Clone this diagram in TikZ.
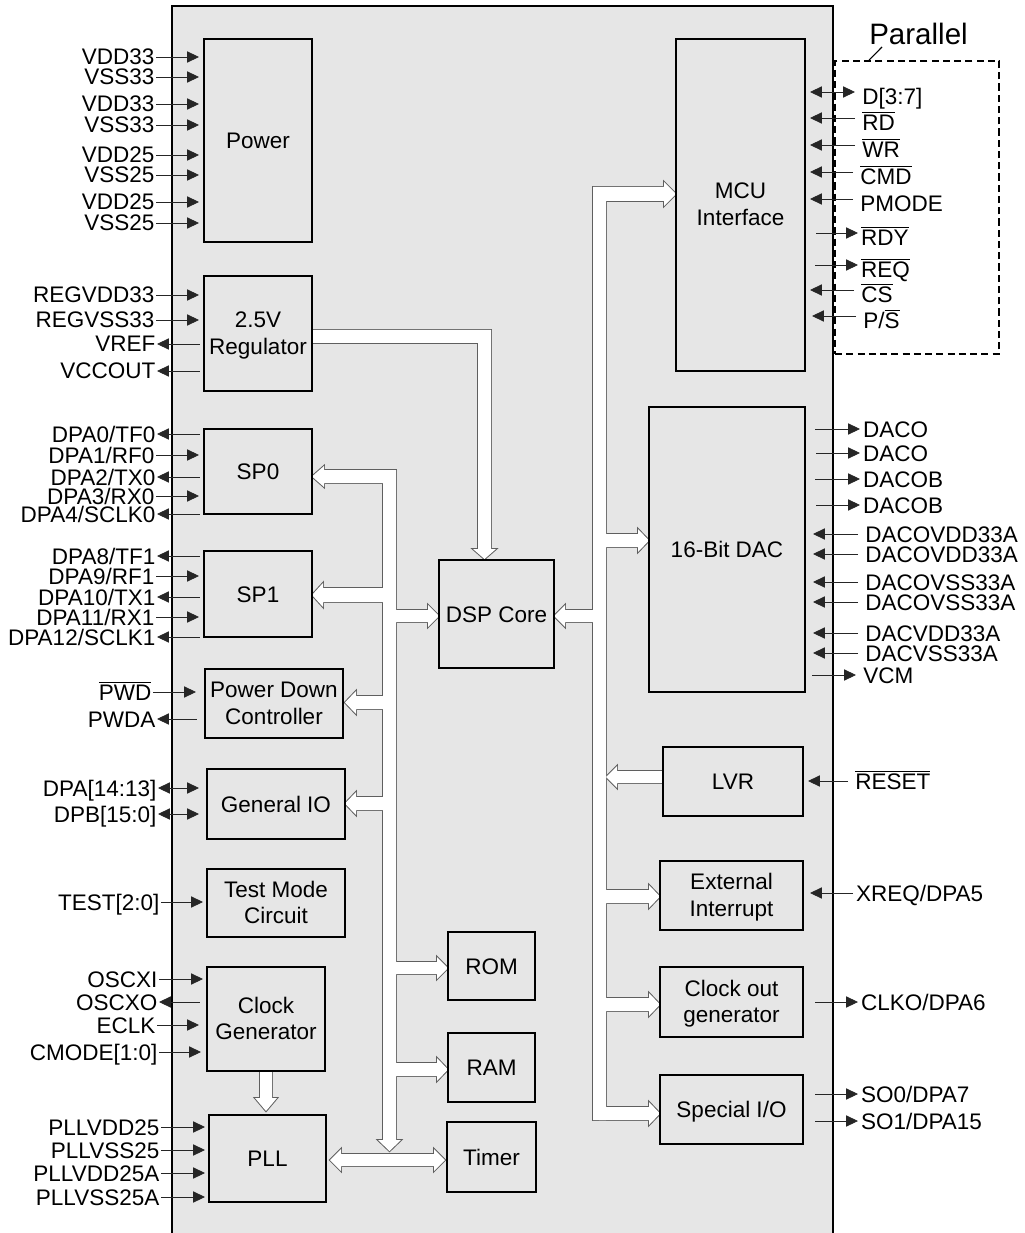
\documentclass[tikz,border=0pt]{standalone}
\usepackage{fontspec}
\setmainfont{Liberation Sans}
\usetikzlibrary{arrows.meta,fit,calc}
\definecolor{chipbg}{RGB}{230,230,230}
\definecolor{busline}{RGB}{95,95,95}
\newcommand\ovl[1]{$\overline{\mbox{#1}}$}
\tikzset{
 every node/.style={font=\fontsize{16}{19}\selectfont},
 chip/.style={draw=black, line width=1.2pt, fill=chipbg, inner sep=0pt},
 blk/.style={draw=black, line width=1.1pt, fill=chipbg, inner sep=0pt},
 btxt/.style={anchor=base, inner sep=0pt},
 pinline/.style={draw=black!85, line width=0.6pt},
 pin-in/.style={pinline, -{Triangle[length=8.5pt,width=8pt]}},
 pin-out/.style={pinline, {Triangle[length=8.5pt,width=8pt]}-},
 pin-bi/.style={pinline, {Triangle[length=8.5pt,width=8pt]}-{Triangle[length=8.5pt,width=8pt]}},
 llbl/.style={anchor=base east, inner xsep=1pt, inner ysep=0pt},
 rlbl-in/.style={anchor=base west, inner xsep=5pt, inner ysep=0pt},
 rlbl-out/.style={anchor=base west, inner xsep=2pt, inner ysep=0pt},
 dashbox/.style={draw=black, line width=1.3pt, dash pattern=on 5pt off 3pt, inner sep=0pt},
}
% block with one line of text: name, x1, y1, x2, y2, text
\newcommand\blkA[6]{%
  \node[blk, fit={(#2,#3) (#4,#5)}] (#1) {};
  \node[btxt] (#1-l) at ($(#1.center)+(0,8)$) {#6};}
% block with two lines of text
\newcommand\blkB[7]{%
  \node[blk, fit={(#2,#3) (#4,#5)}] (#1) {};
  \node[btxt] (#1-l) at ($(#1.center)+(0,-6)$) {\begin{tabular}[t]{@{}c@{}}#6\\#7\end{tabular}};}
% left pin: name, text, x of line start, x of tip, y, arrow style
\newcommand\lpin[6]{%
  \node[llbl] (#1) at (#3,#5+8) {#2};
  \coordinate (#1-t) at (#4,#5);
  \draw[#6] (#1-t -| #1.east) -- (#1-t);}
% right pin: name, text, x of line start, x of tip, y, arrow style, label style
\newcommand\rpin[7]{%
  \node[#7] (#1) at (#3,#5+8) {#2};
  \coordinate (#1-t) at (#4,#5);
  \draw[#6] (#1-t -| #1.west) -- (#1-t);}
% hollow arrows: style, x start, x tip, y top, y bottom
\newcommand\hR[5]{\path[#1] (#2,#4) -- ({#3-11},#4) -- ({#3-11},{#4-5}) -- (#3,{(#4+#5)/2}) -- ({#3-11},{#5+5}) -- ({#3-11},#5) -- (#2,#5) -- cycle;}
\newcommand\hL[5]{\path[#1] (#2,#4) -- ({#3+11},#4) -- ({#3+11},{#4-5}) -- (#3,{(#4+#5)/2}) -- ({#3+11},{#5+5}) -- ({#3+11},#5) -- (#2,#5) -- cycle;}
\newcommand\busshapes[1]{%
 % regulator -> DSP core
 \path[#1] (305,330) -- (491,330) -- (491,549) -- (496,549) -- (484.5,559) -- (473,549) -- (478,549) -- (478,343) -- (305,343) -- cycle;
 % left bus with SP0 branch
 \path[#1] (312,476.5) -- (324,466) -- (324,470) -- (396,470) -- (396,1140) -- (401,1140) -- (389.5,1151) -- (378,1140) -- (383,1140) -- (383,483) -- (324,483) -- (324,487) -- cycle;
 \hL{#1}{389}{312}{588}{602}
 \hR{#1}{389}{439}{610}{622}
 \hL{#1}{389}{345}{696}{709}
 \hL{#1}{389}{345}{797}{810}
 \hR{#1}{389}{448}{962}{974}
 \hR{#1}{389}{448}{1063}{1076}
 % clock generator -> PLL
 \path[#1] (260,1065) -- (260,1098) -- (255,1098) -- (266,1111) -- (277,1098) -- (272,1098) -- (272,1065) -- cycle;
 % PLL <-> Timer
 \path[#1] (341,1154) -- (434,1154) -- (434,1149) -- (445,1160) -- (434,1171) -- (434,1166) -- (341,1166) -- (341,1171) -- (330,1160) -- (341,1149) -- cycle;
 % right bus with MCU branch
 \path[#1] (593,187) -- (664,187) -- (664,182) -- (676,194) -- (664,206) -- (664,201) -- (606,201) -- (606,1120) -- (593,1120) -- cycle;
 \hL{#1}{599}{554}{610}{622}
 \hR{#1}{599}{649}{534}{547}
 \hL{#1}{670}{606}{771}{783}
 \hR{#1}{599}{660}{890}{903}
 \hR{#1}{599}{660}{998}{1011}
 \hR{#1}{599}{660}{1107}{1120}
}
\begin{document}
\begin{tikzpicture}[x=0.025cm, y=-0.025cm]
\useasboundingbox (0,0) rectangle (1024,1233);
\clip (0,0) rectangle (1024,1233);
\node[chip, fit={(172,6) (833,1260)}] (chip) {};
% buses
\busshapes{draw=busline, line width=1.4pt, line join=miter}
\busshapes{fill=white}
% blocks
\blkA{pwr}{204}{39}{312}{242}{Power}
\blkB{reg}{204}{276}{312}{391}{2.5V}{Regulator}
\blkA{sp0}{204}{429}{312}{514}{SP0}
\blkA{sp1}{204}{551}{312}{637}{SP1}
\blkB{pdc}{205}{669}{343}{738}{Power Down}{Controller}
\blkA{gio}{207}{769}{345}{839}{General IO}
\blkB{tmc}{207}{869}{345}{937}{Test Mode}{Circuit}
\blkB{clk}{207}{967}{325}{1071}{Clock}{Generator}
\blkA{pll}{209}{1115}{326}{1202}{PLL}
\blkA{dsp}{439}{560}{554}{668}{DSP Core}
\blkA{rom}{448}{932}{535}{1000}{ROM}
\blkA{ram}{448}{1033}{535}{1102}{RAM}
\blkA{tmr}{447}{1122}{536}{1192}{Timer}
\blkB{mcu}{676}{39}{805}{371}{MCU}{Interface}
\blkA{dac}{649}{407}{805}{692}{16-Bit DAC}
\blkA{lvr}{663}{747}{803}{816}{LVR}
\blkB{ext}{660}{861}{803}{930}{External}{Interrupt}
\blkB{cog}{660}{967}{803}{1037}{Clock out}{generator}
\blkA{sio}{660}{1075}{803}{1144}{Special I/O}
% parallel group
\node[dashbox, fit={(835,61) (999,354)}] (par) {};
\node[font=\fontsize{21}{24}\selectfont, anchor=base west, inner sep=0pt] (parlbl) at (869,45) {Parallel};
\draw[line width=0.8pt] ($(par.north west)+(35,0)$) -- ($(parlbl.base west)+(13,2)$);
% left pins
\lpin{p1}{VDD33}{156}{199}{57}{pin-in}
\lpin{p2}{VSS33}{156}{199}{77}{pin-in}
\lpin{p3}{VDD33}{156}{199}{104}{pin-in}
\lpin{p4}{VSS33}{156}{199}{125}{pin-in}
\lpin{p5}{VDD25}{156}{199}{155}{pin-in}
\lpin{p6}{VSS25}{156}{199}{175}{pin-in}
\lpin{p7}{VDD25}{156}{199}{202}{pin-in}
\lpin{p8}{VSS25}{156}{199}{223}{pin-in}
\lpin{r1}{REGVDD33}{156}{199}{295}{pin-in}
\lpin{r2}{REGVSS33}{156}{199}{320}{pin-in}
\lpin{r3}{VREF}{157}{200}{344}{pin-out}
\lpin{r4}{VCCOUT}{157}{200}{371}{pin-out}
\lpin{s1}{DPA0/TF0}{157}{200}{434}{pin-out}
\lpin{s2}{DPA1/RF0}{156}{199}{455}{pin-in}
\lpin{s3}{DPA2/TX0}{157}{200}{477}{pin-out}
\lpin{s4}{DPA3/RX0}{156}{199}{496}{pin-in}
\lpin{s5}{DPA4/SCLK0}{157}{200}{514}{pin-out}
\lpin{t1}{DPA8/TF1}{157}{200}{556}{pin-out}
\lpin{t2}{DPA9/RF1}{156}{199}{576}{pin-in}
\lpin{t3}{DPA10/TX1}{157}{200}{597}{pin-out}
\lpin{t4}{DPA11/RX1}{156}{199}{617}{pin-in}
\lpin{t5}{DPA12/SCLK1}{157}{200}{637}{pin-out}
\lpin{d1}{\ovl{PWD}}{153}{196}{692}{pin-in}
\lpin{d2}{PWDA}{157}{197}{719}{pin-out}
\lpin{g1}{DPA[14:13]}{158}{199}{788}{pin-bi}
\lpin{g2}{DPB[15:0]}{158}{199}{814}{pin-bi}
\lpin{tm}{TEST[2:0]}{161}{203}{902}{pin-in}
\lpin{c1}{OSCXI}{159}{203}{979}{pin-in}
\lpin{c2}{OSCXO}{159}{200}{1002}{pin-out}
\lpin{c3}{ECLK}{157}{199}{1025}{pin-in}
\lpin{c4}{CMODE[1:0]}{159}{201}{1052}{pin-in}
\lpin{q1}{PLLVDD25}{161}{205}{1127}{pin-in}
\lpin{q2}{PLLVSS25}{161}{205}{1150}{pin-in}
\lpin{q3}{PLLVDD25A}{161}{205}{1173}{pin-in}
\lpin{q4}{PLLVSS25A}{161}{205}{1197}{pin-in}
% right pins: MCU
\rpin{m1}{D[3:7]}{855}{810}{92}{pin-bi}{rlbl-in, yshift=-3pt}
\rpin{m2}{\ovl{RD}}{855}{810}{118}{pin-in}{rlbl-in, yshift=-3pt}
\rpin{m3}{\ovl{WR}}{855}{810}{145}{pin-in}{rlbl-in, yshift=-3pt}
\rpin{m4}{\ovl{CMD}}{853}{810}{172}{pin-in}{rlbl-in, yshift=-3pt}
\rpin{m5}{PMODE}{853}{810}{199}{pin-in}{rlbl-in, yshift=-3pt}
\rpin{m6}{\ovl{RDY}}{858}{816}{233}{pin-out}{rlbl-out, yshift=-3pt}
\rpin{m7}{\ovl{REQ}}{858}{815}{265}{pin-out}{rlbl-out, yshift=-3pt}
\rpin{m8}{\ovl{CS}}{854}{810}{290}{pin-in}{rlbl-in, yshift=-3pt}
\rpin{m9}{P/\ovl{S}}{856}{812}{316}{pin-in}{rlbl-in, yshift=-3pt}
% right pins: DAC
\rpin{a1}{DACO}{860}{815}{429}{pin-out}{rlbl-out}
\rpin{a2}{DACO}{860}{816}{453}{pin-out}{rlbl-out}
\rpin{a3}{DACOB}{860}{815}{479}{pin-out}{rlbl-out}
\rpin{a4}{DACOB}{860}{816}{505}{pin-out}{rlbl-out}
\rpin{a5}{DACOVDD33A}{858}{813}{534}{pin-in}{rlbl-in}
\rpin{a6}{DACOVDD33A}{858}{813}{554}{pin-in}{rlbl-in}
\rpin{a7}{DACOVSS33A}{858}{813}{582}{pin-in}{rlbl-in}
\rpin{a8}{DACOVSS33A}{858}{813}{602}{pin-in}{rlbl-in}
\rpin{a9}{DACVDD33A}{858}{813}{633}{pin-in}{rlbl-in}
\rpin{a10}{DACVSS33A}{858}{813}{653}{pin-in}{rlbl-in}
\rpin{a11}{VCM}{856}{812}{675}{pin-out}{rlbl-in}
% right pins: others
\rpin{rs}{\ovl{RESET}}{848}{808}{781}{pin-in}{rlbl-in}
\rpin{xr}{XREQ/DPA5}{853}{810}{893}{pin-in}{rlbl-out}
\rpin{co}{CLKO/DPA6}{858}{815}{1002}{pin-out}{rlbl-out}
\rpin{so0}{SO0/DPA7}{858}{815}{1094}{pin-out}{rlbl-out}
\rpin{so1}{SO1/DPA15}{858}{815}{1121}{pin-out}{rlbl-out}
\end{tikzpicture}
\end{document}
